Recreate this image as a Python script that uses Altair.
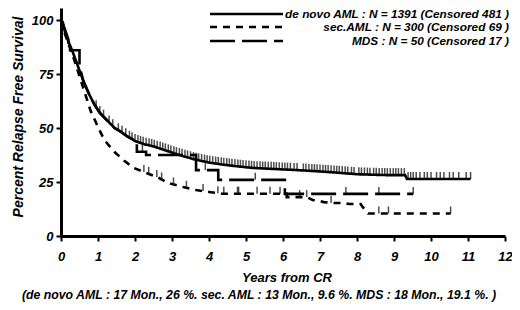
import altair as alt
import pandas as pd

FONT = "Liberation Sans"

# Kaplan-Meier curves (years from CR, percent RFS)
denovo_t = [0, 0.05, 0.1, 0.2, 0.3, 0.45, 0.6, 0.75, 0.9, 1.05, 1.25, 1.45, 1.6, 1.8, 2.0, 2.25, 2.5, 2.85, 3.2, 3.6, 4.0, 4.4, 4.8, 5.2, 5.8, 6.4, 6.9, 7.5, 8.0, 8.8, 9.3, 9.35, 11.07]
denovo_s = [100, 99, 95, 90, 86, 79, 72, 66, 61, 57, 53.5, 50, 48.5, 46, 44, 42.5, 41.5, 39.5, 37.5, 35.5, 34, 33, 32.2, 31.5, 31, 30.5, 30, 29.3, 28.6, 28.2, 28.2, 26.4, 26.4]

sec_t = [0, 0.1, 0.2, 0.35, 0.5, 0.65, 0.8, 1.0, 1.17, 1.44, 1.7, 1.97, 2.24, 2.6, 2.9, 3.3, 3.65, 4.0, 4.35, 6.1, 6.1, 6.65, 6.8, 7.0, 7.1, 7.3, 7.6, 7.8, 8.1, 8.15, 8.3, 10.53]
sec_s = [100, 94, 89, 82, 74, 66, 58, 50.5, 44.5, 39, 35, 31.5, 29.6, 27.3, 24.5, 22.7, 21.3, 20.4, 19.6, 19.6, 18, 18, 16.7, 16.2, 15.7, 15.3, 15.3, 14.8, 14.8, 13.5, 10.4, 10.4]

mds_t = [0, 0.1, 0.2, 0.2, 0.5, 0.5, 0.6, 0.75, 0.9, 1.05, 1.25, 1.45, 1.6, 1.8, 2.05, 2.05, 2.3, 2.3, 3.65, 3.65, 4.25, 4.25, 6.05, 6.05, 9.52]
mds_s = [100, 96, 91, 86, 86, 79, 72, 66, 61, 57, 53.5, 50, 48.5, 46, 44, 39, 39, 37.5, 37.5, 30.5, 30.5, 26, 26, 19.5, 19.5]

# censoring times
denovo_cens = [0.95, 1.05, 1.15, 1.3, 1.4, 1.55, 1.65, 1.75, 1.85, 1.92, 2.0, 2.08, 2.15, 2.22, 2.3, 2.38, 2.45, 2.52, 2.6, 2.68, 2.75, 2.82, 2.9, 2.97, 3.05, 3.12, 3.2, 3.27, 3.35, 3.42, 3.5, 3.58, 3.65, 3.72, 3.8, 3.88, 3.95, 4.02, 4.1, 4.18, 4.25, 4.33, 4.4, 4.48, 4.55, 4.62, 4.7, 4.78, 4.85, 4.92, 5.0, 5.08, 5.15, 5.22, 5.3, 5.38, 5.45, 5.52, 5.6, 5.68, 5.75, 5.82, 5.9, 5.98, 6.05, 6.12, 6.2, 6.3, 6.38, 6.55, 6.62, 6.7, 6.78, 6.85, 6.92, 7.0, 7.08, 7.15, 7.22, 7.3, 7.38, 7.45, 7.52, 7.6, 7.68, 7.75, 7.85, 7.92, 8.05, 8.12, 8.2, 8.28, 8.35, 8.45, 8.52, 8.6, 8.68, 8.75, 8.82, 8.9, 8.98, 9.05, 9.12, 9.2, 9.28, 9.38, 9.45, 9.52, 9.6, 9.7, 9.82, 9.9, 10.0, 10.15, 10.25, 10.35, 10.5, 10.6, 10.75, 10.95, 11.07]
sec_cens = [2.24, 2.37, 2.59, 2.72, 3.04, 3.39, 3.84, 4.24, 4.4, 4.77, 4.8, 5.3, 5.65, 5.92, 6.45, 6.64, 7.3, 8.59, 8.85, 10.53]
mds_cens = [2.2, 3.9, 5.25, 7.7, 8.59, 9.52]

legend_labels = ["de novo AML : N = 1391  (Censored 481 )", "sec.AML : N = 300  (Censored 69 )", "MDS : N = 50  (Censored 17 )"]
caption = "(de novo AML : 17 Mon., 26 %.  sec. AML : 13 Mon., 9.6 %.  MDS : 18 Mon., 19.1 %. )"

W, H = 444, 228
YMAX = 105.6


def lin_at(ts, ss, t):
    for i in range(len(ts) - 1):
        if ts[i] <= t <= ts[i + 1]:
            if ts[i + 1] == ts[i]:
                return ss[i + 1]
            f = (t - ts[i]) / (ts[i + 1] - ts[i])
            return ss[i] + f * (ss[i + 1] - ss[i])
    return ss[-1]


xs = alt.Scale(domain=[0, 12], nice=False)
ys = alt.Scale(domain=[0, YMAX], nice=False)

xaxis = alt.Axis(values=list(range(13)), title=None, grid=False, labelOverlap=False, labelFlush=False)
yaxis = alt.Axis(values=[0, 25, 50, 75, 100], title=None, grid=False, labelOverlap=False)

series = [
    (denovo_t, denovo_s, denovo_cens, [1, 0]),
    (sec_t, sec_s, sec_cens, [7, 6]),
    (mds_t, mds_s, mds_cens, [25, 7]),
]

layers = []
for ts, ss, cens, dash in series:
    df = pd.DataFrame({"t": ts, "s": ss})
    line = alt.Chart(df).mark_line(color="black", strokeWidth=2.6, strokeDash=dash, clip=False).encode(
        x=alt.X("t:Q", scale=xs, axis=xaxis), y=alt.Y("s:Q", scale=ys, axis=yaxis))
    layers.append(line)
    cdf = pd.DataFrame({"t": cens, "s": [lin_at(ts, ss, c) for c in cens]})
    ticks = alt.Chart(cdf).mark_tick(orient="vertical", color="black", size=7, thickness=1.5, yOffset=-3.5).encode(
        x=alt.X("t:Q", scale=xs, axis=xaxis), y=alt.Y("s:Q", scale=ys, axis=yaxis))
    layers.append(ticks)

# legend
leg_y = [6, 19, 33]
for lab, (ts, ss, cens, dash), yy in zip(legend_labels, series, leg_y):
    layers.append(alt.Chart(pd.DataFrame({"a": [0]})).mark_rule(color="black", strokeWidth=2.6, strokeDash=dash).encode(
        x=alt.value(149), x2=alt.value(222), y=alt.value(yy)))
    layers.append(alt.Chart(pd.DataFrame({"a": [lab]})).mark_text(
        align="right", baseline="middle", font=FONT, fontSize=11.8, fontWeight="bold", fontStyle="italic",
        color="black").encode(text="a:N", x=alt.value(448), y=alt.value(yy)))

# titles
layers.append(alt.Chart(pd.DataFrame({"a": ["Years from CR"]})).mark_text(
    align="center", baseline="middle", font=FONT, fontSize=13, fontWeight="bold", fontStyle="italic",
    color="black").encode(text="a:N", x=alt.value(226), y=alt.value(270)))
layers.append(alt.Chart(pd.DataFrame({"a": ["Percent Relapse Free Survival"]})).mark_text(
    align="center", baseline="middle", font=FONT, fontSize=14, fontWeight="bold", fontStyle="italic",
    angle=270, color="black").encode(text="a:N", x=alt.value(-42), y=alt.value(109)))
layers.append(alt.Chart(pd.DataFrame({"a": [caption]})).mark_text(
    align="center", baseline="middle", font=FONT, fontSize=12.3, fontWeight="bold", fontStyle="italic",
    color="black").encode(text="a:N", x=alt.value(198), y=alt.value(287)))

chart = alt.layer(*layers).properties(
    width=W, height=H,
    autosize=alt.AutoSizeParams(type="none"),
    padding={"left": 53, "top": 0, "right": 7, "bottom": 66},
    background="white",
).configure_view(stroke=None).configure_axis(
    domainWidth=3, domainColor="black", tickColor="black", tickWidth=2, tickSize=5,
    labelFont=FONT, labelFontSize=13, labelFontWeight="bold", labelFontStyle="italic",
    labelColor="black", labelOverlap=False,
).configure_axisX(labelPadding=9).configure_axisY(labelPadding=3)

chart.save("out.html", embed_options={"renderer": "svg", "actions": False})
